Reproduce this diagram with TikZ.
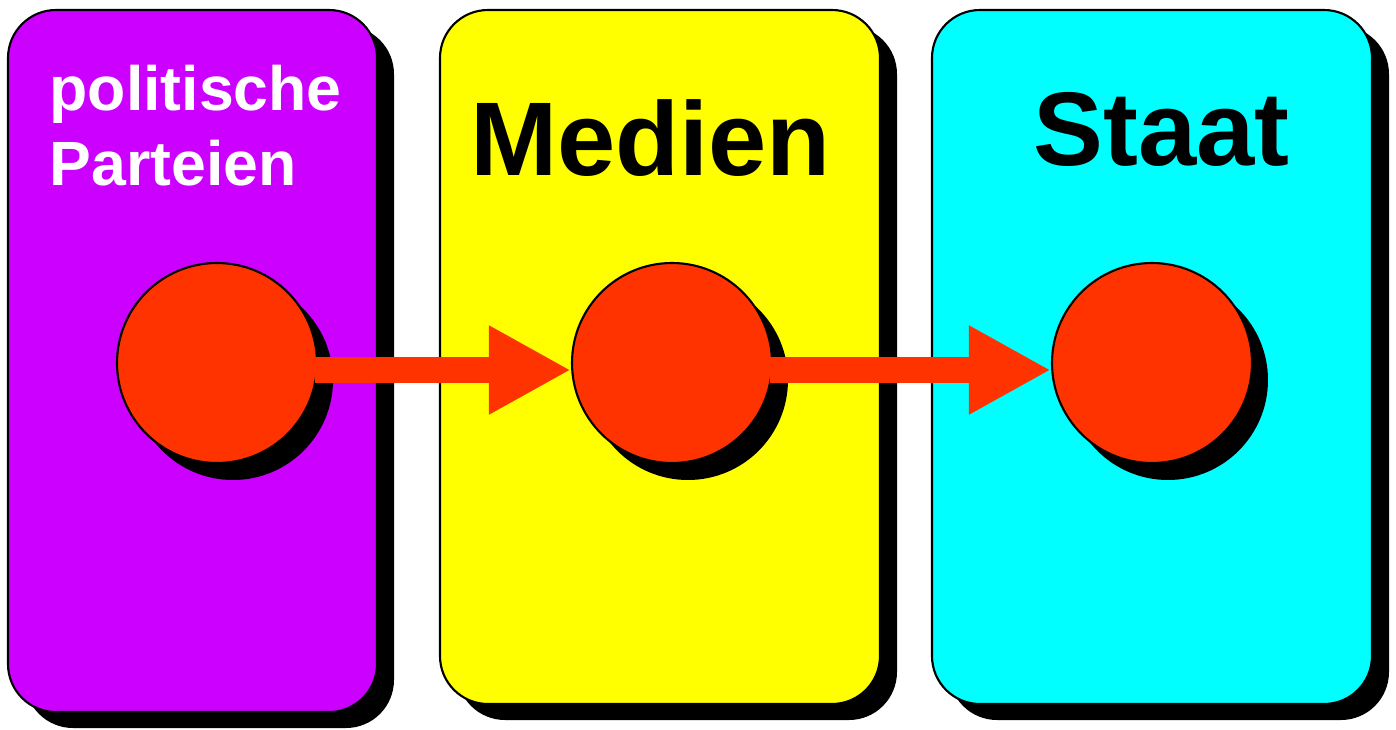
\documentclass[tikz,border=0pt]{standalone}
\usepackage{fontspec}
\setmainfont{Liberation Sans}
\usepackage{tikz}
\usetikzlibrary{shadows, arrows.meta, positioning}

\definecolor{parteilila}{RGB}{204,0,255}
\definecolor{mediengelb}{RGB}{255,255,0}
\definecolor{staatcyan}{RGB}{0,255,255}
\definecolor{punktrot}{RGB}{255,51,0}

\begin{document}
\begin{tikzpicture}[
  panel/.style={draw=black, line width=0.6pt, rounded corners=0.48cm, inner sep=0pt,
    drop shadow={shadow xshift=0.17cm, shadow yshift=-0.16cm, opacity=1, fill=black}},
  dot/.style={circle, draw=black, line width=0.6pt, fill=punktrot, minimum size=2cm, inner sep=0pt,
    drop shadow={shadow xshift=0.16cm, shadow yshift=-0.17cm, opacity=1, fill=black}},
  push/.style={draw=punktrot, line width=0.26cm, -{Triangle[length=0.82cm, width=0.83cm]}},
  titel/.style={font=\bfseries\fontsize{29.8}{36}\selectfont, inner sep=0pt, anchor=base}
]
\useasboundingbox (0,0) rectangle (13.96,7.29);

% Spalten
\node[panel, fill=parteilila, minimum width=3.69cm, minimum height=7.02cm] (parteien) at (1.925,3.68) {};
\node[panel, fill=mediengelb, minimum width=4.40cm, minimum height=6.94cm] (medien) at (6.60,3.72) {};
\node[panel, fill=staatcyan, minimum width=4.40cm, minimum height=6.94cm] (staat) at (11.52,3.72) {};

% Beschriftungen
\node[text=white, font=\bfseries\fontsize{17.8}{21.3}\selectfont, align=left, anchor=base west, inner sep=0pt] (parteientext) at (0.49,5.44) {politische\\Parteien};
\node[titel] (medientext) at (6.505,5.54) {Medien};
\node[titel] (staattext) at (11.615,5.64) {Staat};

% Punkte
\node[dot] (p) at (2.17,3.66) {};
\node[dot] (m) at (6.72,3.66) {};
\node[dot] (s) at (11.52,3.66) {};

% Pfeile
\draw[push] ([xshift=-0.03cm, yshift=-0.07cm]p.east) -- ([yshift=-0.07cm]m.west);
\draw[push] ([xshift=-0.03cm, yshift=-0.07cm]m.east) -- ([yshift=-0.07cm]s.west);
\end{tikzpicture}
\end{document}
